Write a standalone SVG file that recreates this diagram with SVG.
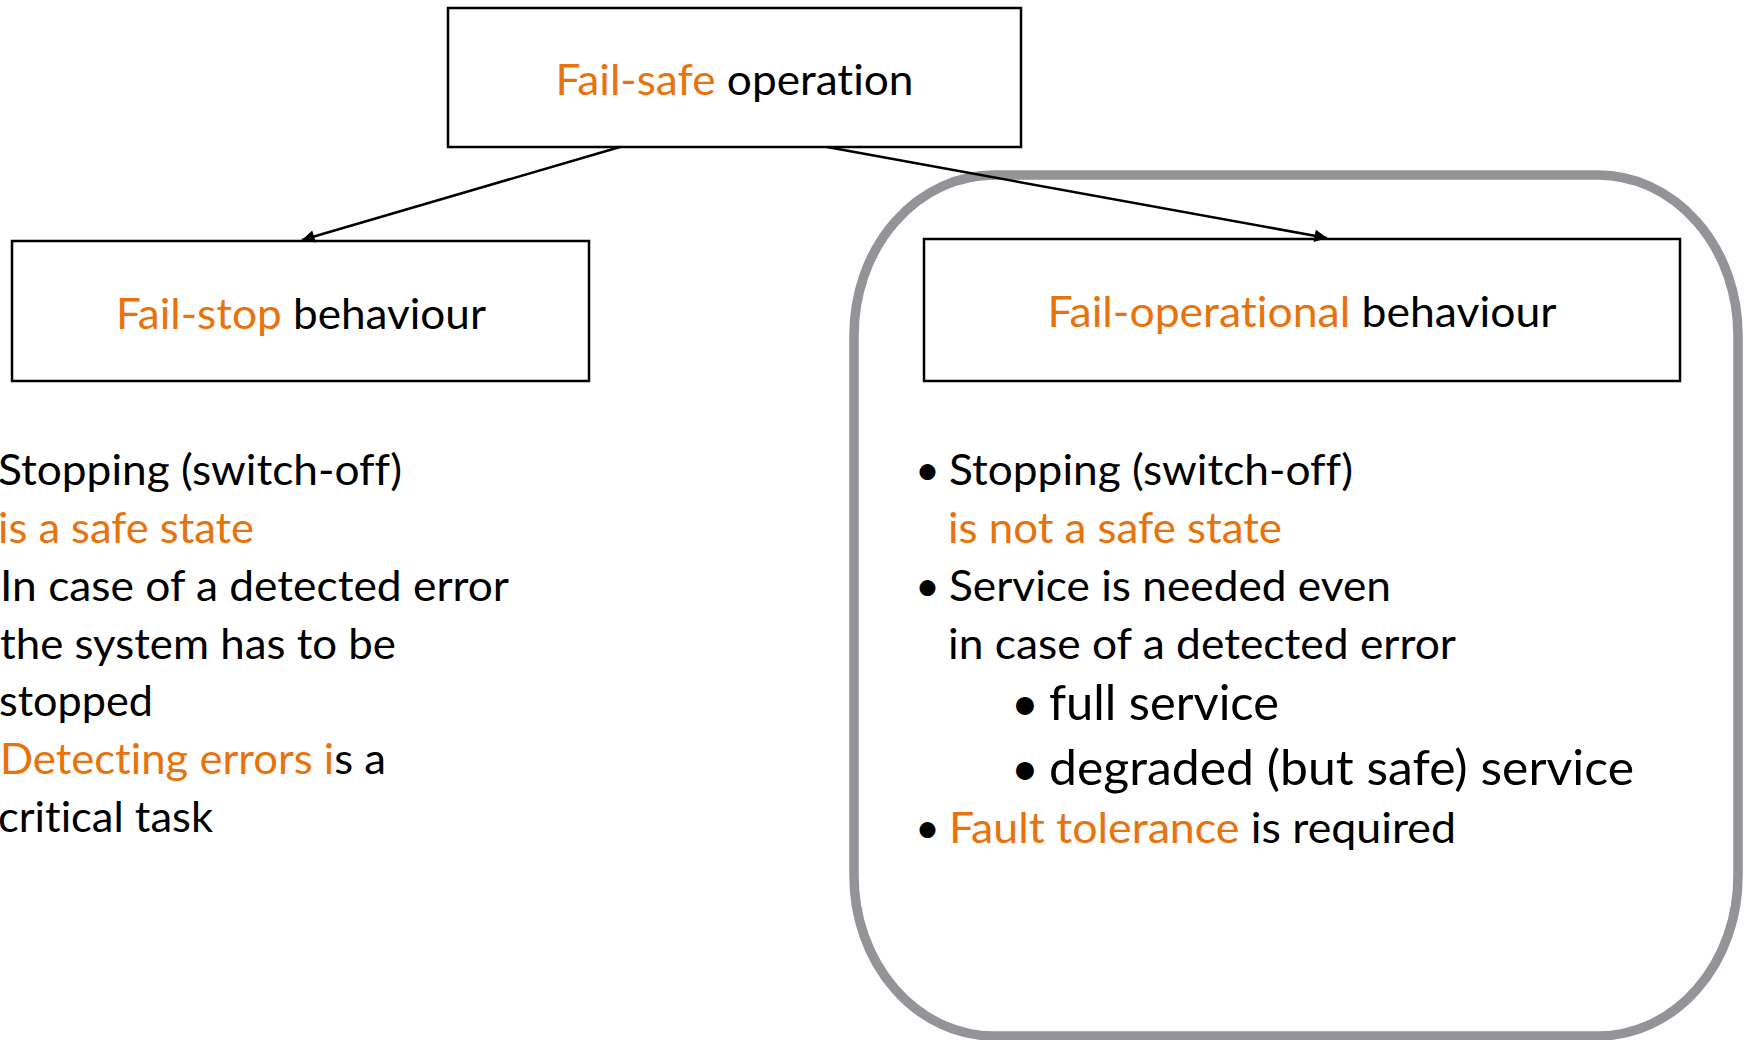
<svg xmlns="http://www.w3.org/2000/svg" width="1748" height="1040" viewBox="0 0 1748 1040">
  <defs>
    <marker id="arrow" viewBox="0 0 10 10" refX="10" refY="5" markerWidth="5.5" markerHeight="5" orient="auto" markerUnits="strokeWidth">
      <path d="M0,0 L10,5 L0,10 z" fill="#000"/>
    </marker>
    <style>
      .box { fill: #fff; stroke: #000; stroke-width: 2.5; }
      .frame { fill: none; stroke: #929497; stroke-width: 9.5; }
      .edge { fill: none; stroke: #000; stroke-width: 2.5; marker-end: url(#arrow); }
      text { font-family: Lato, "Open Sans", "Liberation Sans", sans-serif; fill: #000; font-variant-ligatures: none; }
      .t { font-size: 43px; }
      .sub { font-size: 48px; }
      .hl { fill: #E8720C; }
    </style>
  </defs>

  <!-- grey frame around the fail-operational branch -->
  <rect class="frame" x="854" y="175" width="884" height="861" rx="140" ry="160"/>

  <!-- root node -->
  <g id="node-fail-safe">
    <rect class="box" x="448" y="8" width="573" height="139"/>
    <text class="t" x="734.5" y="95" text-anchor="middle" textLength="358" lengthAdjust="spacingAndGlyphs"><tspan class="hl">Fail-safe</tspan> operation</text>
  </g>

  <!-- fail-stop node -->
  <g id="node-fail-stop">
    <rect class="box" x="12" y="241" width="577" height="140"/>
    <text class="t" x="301" y="329" text-anchor="middle" textLength="370" lengthAdjust="spacingAndGlyphs"><tspan class="hl">Fail-stop</tspan> behaviour</text>
  </g>

  <!-- fail-operational node -->
  <g id="node-fail-operational">
    <rect class="box" x="924" y="239" width="756" height="142"/>
    <text class="t" x="1302" y="327" text-anchor="middle" textLength="509" lengthAdjust="spacingAndGlyphs"><tspan class="hl">Fail-operational</tspan> behaviour</text>
  </g>

  <!-- connectors -->
  <g id="connectors">
    <line class="edge" x1="620" y1="147" x2="302" y2="240"/>
    <line class="edge" x1="827" y1="147" x2="1327" y2="238"/>
  </g>

  <!-- fail-stop description -->
  <g id="text-fail-stop">
    <text class="t" x="-2" y="485" textLength="404" lengthAdjust="spacingAndGlyphs">Stopping (switch-off)</text>
    <text class="t hl" x="-2" y="543" textLength="256" lengthAdjust="spacingAndGlyphs">is a safe state</text>
    <text class="t" x="0" y="601" textLength="509" lengthAdjust="spacingAndGlyphs">In case of a detected error</text>
    <text class="t" x="0" y="659" textLength="396" lengthAdjust="spacingAndGlyphs">the system has to be</text>
    <text class="t" x="-1" y="716" textLength="154" lengthAdjust="spacingAndGlyphs">stopped</text>
    <text class="t" x="0" y="774" textLength="386" lengthAdjust="spacingAndGlyphs"><tspan class="hl">Detecting errors i</tspan>s a</text>
    <text class="t" x="-2" y="832" textLength="215" lengthAdjust="spacingAndGlyphs">critical task</text>
  </g>

  <!-- fail-operational description -->
  <g id="text-fail-operational">
    <text class="t" x="915" y="485">•</text>
    <text class="t" x="949" y="485" textLength="404" lengthAdjust="spacingAndGlyphs">Stopping (switch-off)</text>
    <text class="t hl" x="948" y="543" textLength="334" lengthAdjust="spacingAndGlyphs">is not a safe state</text>
    <text class="t" x="915" y="601">•</text>
    <text class="t" x="949" y="601" textLength="442" lengthAdjust="spacingAndGlyphs">Service is needed even</text>
    <text class="t" x="948" y="659" textLength="508" lengthAdjust="spacingAndGlyphs">in case of a detected error</text>
    <text class="sub" x="1011" y="720">•</text>
    <text class="sub" x="1049" y="720" textLength="230" lengthAdjust="spacingAndGlyphs">full service</text>
    <text class="sub" x="1011" y="785">•</text>
    <text class="sub" x="1049" y="785" textLength="585" lengthAdjust="spacingAndGlyphs">degraded (but safe) service</text>
    <text class="t" x="915" y="843">•</text>
    <text class="t" x="949" y="843" textLength="507" lengthAdjust="spacingAndGlyphs"><tspan class="hl">Fault tolerance</tspan> is required</text>
  </g>
</svg>
